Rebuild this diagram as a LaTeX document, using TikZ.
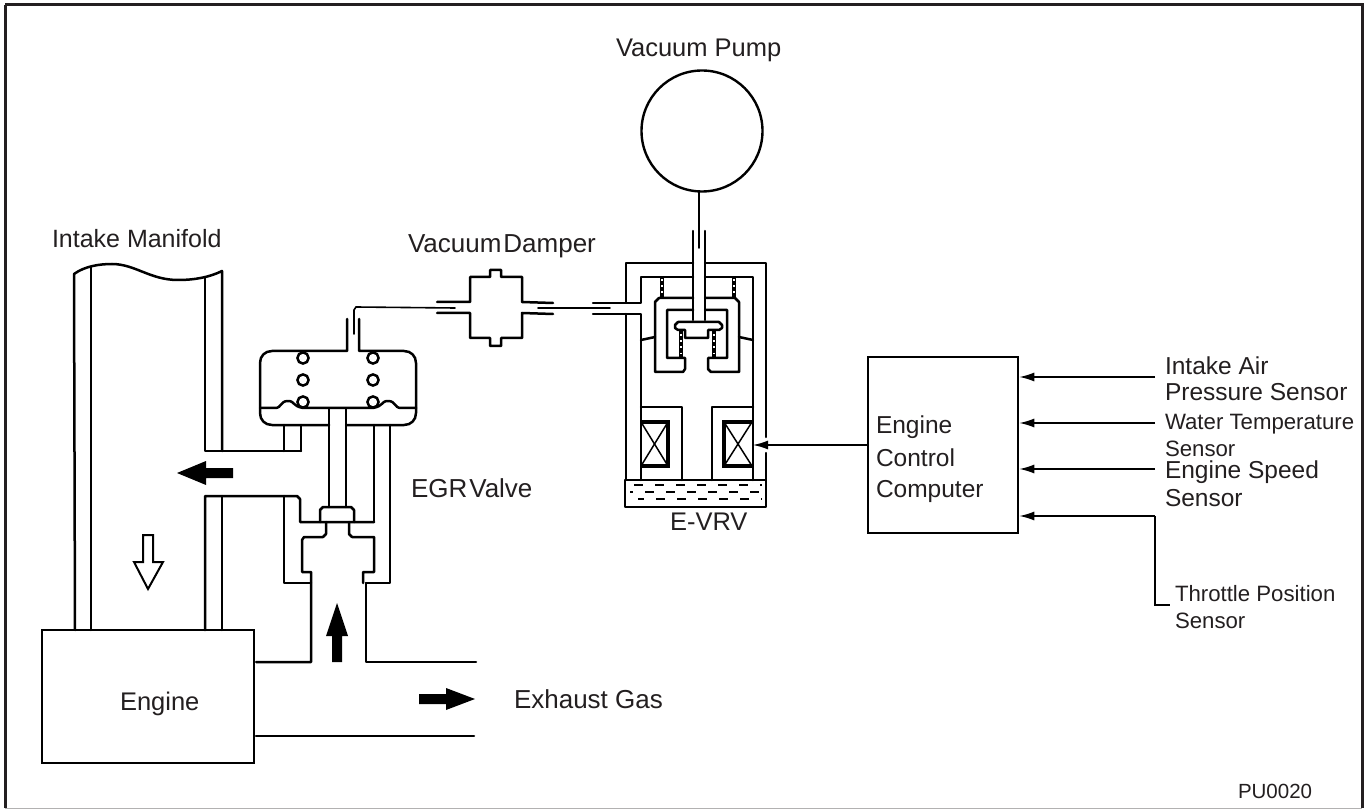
\documentclass[tikz,border=0pt]{standalone}
\usepackage{fontspec}
\usetikzlibrary{arrows.meta}
\setmainfont{Liberation Sans}
\definecolor{ink}{HTML}{231F20}
\tikzset{
  part/.style={draw=black,line width=2.5pt,line join=round,line cap=round},
  thin wire/.style={draw=black,line width=1.6pt,line cap=round},
  wire/.style={draw=black,line width=1.5pt},
  thick part/.style={draw=black,line width=3.2pt,line join=miter},
  solid arrow/.style={fill=black,draw=none},
  lab/.style={anchor=base west,inner sep=0pt,outer sep=0pt,text=ink,font=\fontsize{25.5}{30}\selectfont},
  labb/.style={lab,font=\fontsize{26}{30}\selectfont},
  labm/.style={lab,font=\fontsize{24.5}{28}\selectfont},
  labs/.style={lab,font=\fontsize{22.2}{26}\selectfont},
  labp/.style={lab,font=\fontsize{20.5}{24}\selectfont},
  coilspring/.style={draw=black,line width=4.5pt},
  coildots/.style={draw=white,line width=1.8pt,dash pattern=on 1.8pt off 4.4pt},
  dashline/.style={draw=black,line width=1.6pt,dash pattern=on 9pt off 12pt},
  arr/.style={-{Latex[length=15pt,width=9pt]},draw=black,line width=1.5pt},
}
\begin{document}
\begin{tikzpicture}[x=1pt,y=-1pt]
\useasboundingbox (0,0) rectangle (1369,810);
\fill[white] (0,0) rectangle (1369,810);
% frame
\draw[draw=ink,line width=3pt] (5,5) -- (1362,5) -- (1362,808);
\draw[draw=ink,line width=3pt] (5,5) -- (5,808);
\draw[draw=ink!35,line width=1pt] (5,808) -- (1362,808);

% manifold
\draw[part] (75,630) -- (74,274) .. controls (85,266) and (100,264) .. (112,264)
  .. controls (135,264) and (150,280) .. (178,280) .. controls (195,280) and (210,277) .. (222,271) -- (222,451);
\draw[part] (91,267) -- (91,630);
\draw[part] (205,278) -- (205,451) -- (301,451);
\draw[part] (284,425) -- (284,451);
\draw[part] (301,425) -- (301,451);
% lower manifold wall and valve body
\draw[part] (205,630) -- (205,496) -- (297,496) -- (300,499) -- (300,522) -- (374,522);
\draw[part] (222,496) -- (222,630);
\draw[part] (284,496) -- (284,583) -- (311,583);
\draw[part] (326,522) -- (326,534) -- (323,537) -- (304,537) -- (302,540) -- (302,572) -- (311,572) -- (311,662) -- (256,662);
\draw[part] (349,522) -- (349,534) -- (352,537) -- (374,537) -- (374,572) -- (363,572) -- (363,583);
\draw[part] (366,583) -- (390,583) -- (390,425);
\draw[part] (366,583) -- (366,662) -- (476,662);
\draw[part] (374,425) -- (374,522);
% stem and disc
\draw[part] (329,409) -- (329,507);
\draw[part] (346,409) -- (346,507);
\draw[part] (320,522) -- (320,510) -- (323,507) -- (351,507) -- (354,510) -- (354,522);
% diaphragm housing
\draw[part] (347,319) -- (347,351) -- (272,351) .. controls (265,351) and (260,356) .. (260,363)
  -- (260,413) .. controls (260,420) and (265,425) .. (272,425) -- (329,425);
\draw[part] (359,319) -- (359,351) -- (404,351) .. controls (411,351) and (416,356) .. (416,363)
  -- (416,413) .. controls (416,420) and (411,425) .. (404,425) -- (346,425);
\draw[part] (260,408) -- (275,408) .. controls (282,408) and (280,401) .. (288,401)
  .. controls (295,401) and (292,406) .. (303,408) -- (373,408)
  .. controls (384,406) and (381,401) .. (388,401) .. controls (396,401) and (394,408) .. (401,408) -- (416,408);
\foreach \cx in {303,373} \foreach \cy in {358,380,402}
  \draw[part,fill=white] (\cx,\cy) circle (5.6);
% vacuum line
\draw[thin wire] (354,334) -- (354,310) -- (356,307) -- (455,308);
% damper
\draw[part] (437,302) -- (470,302) -- (470,277) -- (490,277) -- (490,270) -- (501,270) -- (501,277) -- (522,277) -- (522,302) -- (553,303);
\draw[part] (437,313) -- (470,313) -- (470,338) -- (490,338) -- (490,346) -- (501,346) -- (501,338) -- (522,338) -- (522,313) -- (553,314);
\draw[thin wire] (538,308) -- (610,308);

% pump
\node[draw=black,line width=2.4pt,circle,minimum size=121pt,inner sep=0pt] (pump) at (702,131) {};
\coordinate (stemend) at (699,248);
\draw[thin wire] (699,192) -- (stemend);
% E-VRV outer
\draw[part] (693,231) -- (693,320);
\draw[part] (705,231) -- (705,320);
\draw[part] (593,303) -- (626,303) -- (626,263) -- (693,263);
\draw[part] (705,263) -- (766,263) -- (766,437);
\draw[part] (766,453) -- (766,480);
\draw[part] (593,314) -- (641,314) -- (641,480);
\draw[part] (626,314) -- (626,480);
\draw[part] (626,303) -- (641,303) -- (641,277) -- (693,277);
\draw[part] (705,277) -- (753,277) -- (753,480);
% cup
\draw[part] (641,340) -- (655,337);
\draw[part] (753,340) -- (739,337);
\draw[part] (693,298) -- (659,298) -- (655,302) -- (655,372) -- (683,372) -- (685,369) -- (685,358) -- (667,358) -- (667,310) -- (693,310);
\draw[part] (705,298) -- (735,298) -- (739,302) -- (739,372) -- (711,372) -- (708,369) -- (708,358) -- (727,358) -- (727,310) -- (705,310);
% plunger
\draw[part,fill=white] (678,322) -- (719,322) -- (722,325) -- (722,328) -- (719,330) -- (708,330) -- (708,338) -- (685,338) -- (685,330) -- (678,330) -- (675,328) -- (675,325) -- cycle;
% springs
\draw[coilspring] (662,277) -- (662,298);
\draw[coilspring] (734,277) -- (734,298);
\draw[coilspring] (681,331) -- (681,358);
\draw[coilspring] (714,331) -- (714,358);
\draw[coildots] (662,279) -- (662,297);
\draw[coildots] (734,279) -- (734,297);
\draw[coildots] (681,334) -- (681,357);
\draw[coildots] (714,334) -- (714,357);
% coils
\draw[part] (641,407) -- (682,407) -- (682,480);
\draw[part] (753,407) -- (712,407) -- (712,480);
\draw[thick part] (641,422) -- (668,422) -- (668,466) -- (641,466);
\draw[thick part] (752,422) -- (724,422) -- (724,466) -- (752,466);
\draw[wire] (641,422) -- (668,466);
\draw[wire] (668,422) -- (641,466);
\draw[wire] (724,422) -- (752,466);
\draw[wire] (752,422) -- (724,466);
% fluid box
\draw[part] (625,480) rectangle (766,507);
\draw[dashline] (634,485) -- (762,485);
\draw[dashline,dash phase=6pt] (630,492) -- (762,492);
\draw[dashline,dash phase=3pt] (638,499) -- (762,499);

% engine
\node[draw=black,line width=2.6pt,minimum width=212pt,minimum height=133pt,inner sep=0pt] (engine) at (148,696.5) {};
\draw[part] (256,736) -- (474,736);

% solid arrows
\fill[solid arrow] (177,473) -- (206,461) -- (206,468) -- (233,468) -- (233,478) -- (206,478) -- (206,485) -- cycle;
\fill[solid arrow] (337,603) -- (348,636) -- (342,636) -- (342,662) -- (332,662) -- (332,636) -- (326,636) -- cycle;
\fill[solid arrow] (475,699) -- (446,688) -- (446,694) -- (419,694) -- (419,704) -- (446,704) -- (446,710) -- cycle;
\draw[part,line width=2pt,line join=miter] (148,589) -- (134,562) -- (143,562) -- (143,535) -- (153,535) -- (153,562) -- (163,562) -- cycle;

% ECU
\node[draw=black,line width=2.6pt,minimum width=150pt,minimum height=176pt,inner sep=0pt] (ecu) at (943,445) {};
\coordinate (coilin) at (753,445);
\draw[arr] (ecu.west |- coilin) -- (coilin);
\coordinate (s1) at (1155,377);
\coordinate (s2) at (1155,423);
\coordinate (s3) at (1155,469);
\coordinate (s4) at (1155,516);
\coordinate (s4end) at (1170,605);
\draw[arr] (s1) -- (ecu.east |- s1);
\draw[arr] (s2) -- (ecu.east |- s2);
\draw[arr] (s3) -- (ecu.east |- s3);
\draw[arr] (s4) -- (ecu.east |- s4);
\draw[draw=black,line width=2pt] (s4) |- (s4end);

% labels
\node[lab] (t1) at (616,57) {Vacuum Pump};
\node[lab,font=\fontsize{25}{30}\selectfont] (t2) at (52,248) {Intake Manifold};
\node[labb] (t3) at (408,253) {Vacuum\hspace{2pt}Damper};
\node[labb] (t4) at (411,497) {EGR\hspace{2pt}Valve};
\node[lab] (t5) at (670,530) {E-VRV};
\node[lab] (t6) at (120,710) {Engine};
\node[labb] (t7) at (514,708) {Exhaust Gas};
\node[labm] (t8) at (876,433) {Engine};
\node[labm] (t9) at (876,466) {Control};
\node[labm] (t10) at (876,497) {Computer};
\node[labm] (t11) at (1165,374) {Intake Air};
\node[labm] (t12) at (1165,401) {Pressure Sensor};
\node[labs] (t13) at (1165,429) {Water Temperature};
\node[labs] (t14) at (1165,456) {Sensor};
\node[labm] (t15) at (1165,478) {Engine Speed};
\node[labm] (t16) at (1165,506) {Sensor};
\node[labs] (t17) at (1175,601) {Throttle Position};
\node[labs] (t18) at (1175,628) {Sensor};
\node[labp] (t19) at (1238,798) {PU0020};
\end{tikzpicture}
\end{document}
